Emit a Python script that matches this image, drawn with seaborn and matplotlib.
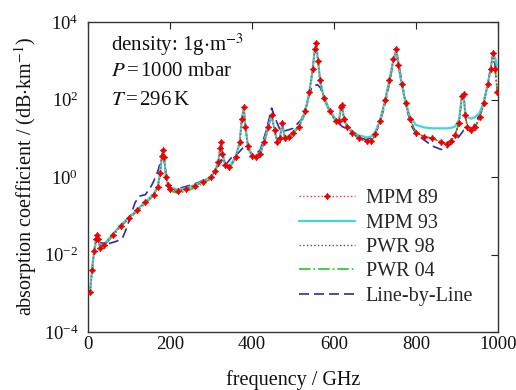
import matplotlib
matplotlib.use("Agg")
import matplotlib.pyplot as plt
import seaborn as sns
import numpy as np

# ---------------- data ----------------
freq_ghz = [5, 10, 15, 20, 22, 25, 30, 40, 60, 80,
            100, 120, 140, 160, 170, 176, 180, 183, 186, 190,
            195, 200, 220, 240, 260, 280, 300, 310, 318, 322,
            325, 328, 335, 345, 360, 370, 375, 380, 384, 390,
            400, 410, 420, 430, 440, 448, 455, 462, 468, 474,
            480, 490, 500, 515, 530, 540, 548, 553, 557, 561,
            566, 575, 590, 605, 612, 617, 620, 624, 632, 645,
            660, 680, 690, 700, 712, 725, 735, 745, 752, 757,
            765, 775, 785, 800, 820, 840, 860, 875, 885, 895,
            905, 912, 916, 920, 925, 935, 945, 955, 965, 975,
            982, 988, 993, 998]

mpm89 = [0.0011, 0.004, 0.0126, 0.025, 0.032, 0.025, 0.015, 0.018, 0.032, 0.056,
         0.089, 0.14, 0.22, 0.35, 0.56, 1.26, 3.5, 5.0, 3.2, 1.0,
         0.63, 0.5, 0.44, 0.5, 0.6, 0.76, 1.0, 1.4, 2.5, 5.6,
         8.0, 4.0, 2.0, 1.8, 3.2, 8.0, 32, 63, 20, 6.3,
         3.5, 3.2, 4.0, 8.0, 20, 40, 16, 8.0, 10, 25,
         10, 11, 14, 20, 50, 160, 630, 2000, 2800, 1000,
         320, 112, 50, 28, 28, 63, 71, 32, 20, 14,
         10, 8.3, 8.3, 12.6, 28, 100, 320, 1120, 2000, 790,
         250, 79, 32, 14, 11, 10, 7.9, 7.1, 8.3, 12,
         25, 126, 141, 40, 20, 16, 20, 35, 79, 250,
         630, 1580, 630, 160]

mpm93 = [0.0011, 0.004, 0.0126, 0.025, 0.032, 0.025, 0.016, 0.019, 0.033, 0.058,
         0.09, 0.145, 0.23, 0.36, 0.58, 1.3, 3.4, 4.8, 3.1, 1.05,
         0.66, 0.53, 0.47, 0.52, 0.62, 0.78, 1.02, 1.45, 2.5, 5.4,
         7.5, 4.0, 2.1, 1.9, 3.3, 8.0, 30, 60, 20, 6.5,
         3.7, 3.4, 4.2, 8.3, 20, 40, 16, 8.3, 10.5, 24,
         10.5, 11.5, 14.5, 21, 52, 160, 630, 1900, 2500, 1000,
         330, 115, 52, 30, 30, 60, 68, 33, 21, 15,
         12, 10.5, 11, 14, 29, 100, 320, 1100, 1900, 800,
         260, 85, 36, 22, 19, 18, 18, 18, 18.5, 20,
         30, 126, 135, 50, 35, 32, 36, 45, 85, 250,
         630, 1500, 1200, 700]

pwr98 = [0.0011, 0.004, 0.0126, 0.025, 0.032, 0.025, 0.015, 0.018, 0.031, 0.055,
         0.088, 0.14, 0.22, 0.35, 0.55, 1.25, 3.4, 4.9, 3.1, 1.0,
         0.62, 0.48, 0.42, 0.48, 0.58, 0.74, 0.98, 1.4, 2.4, 5.5,
         7.8, 4.0, 2.0, 1.8, 3.1, 7.8, 31, 62, 20, 6.2,
         3.4, 3.1, 3.9, 7.8, 20, 40, 16, 8.0, 10, 24,
         10, 11, 14, 20, 50, 160, 620, 2000, 2700, 1000,
         320, 110, 50, 28, 28, 62, 70, 32, 20, 14,
         10, 8.3, 8.3, 12.5, 27, 95, 310, 1100, 2000, 780,
         250, 78, 32, 14, 11, 10, 8.0, 7.2, 8.4, 12,
         25, 125, 140, 40, 20, 16, 20, 35, 79, 250,
         630, 1580, 630, 170]

pwr04 = [0.0011, 0.004, 0.0126, 0.024, 0.031, 0.024, 0.015, 0.017, 0.030, 0.052,
         0.085, 0.13, 0.21, 0.33, 0.53, 1.2, 3.3, 4.8, 3.0, 0.95,
         0.58, 0.44, 0.38, 0.44, 0.52, 0.68, 0.9, 1.3, 2.3, 5.3,
         7.5, 3.8, 1.9, 1.7, 3.0, 7.5, 30, 60, 19, 6.0,
         3.3, 3.0, 3.8, 7.6, 19, 38, 15, 7.8, 9.8, 24,
         9.8, 10.5, 13.5, 19, 45, 140, 560, 1900, 2700, 1000,
         300, 105, 47, 27, 27, 60, 68, 31, 19, 13.5,
         9.8, 8.2, 8.3, 11.5, 24, 80, 260, 1000, 1950, 770,
         245, 77, 31, 14, 11, 10, 8.0, 7.2, 8.4, 12,
         25, 125, 140, 40, 20, 16, 20, 35, 79, 250,
         630, 1580, 630, 170]

lbl_freq = [10, 15, 20, 22, 26, 30, 50, 70, 85, 95,
            105, 115, 125, 140, 155, 165, 172, 178, 183, 188,
            192, 197, 205, 220, 260, 300, 315, 325, 335, 350,
            365, 380, 392, 405, 420, 435, 448, 458, 470, 485,
            500, 520, 535, 545, 552, 560, 567, 580, 600, 620,
            640, 660, 680, 700, 720, 735, 745, 752, 760, 770,
            780, 790, 800, 820, 840, 860, 870, 890, 905, 916,
            935, 960, 975, 988, 998]

lbl = [0.004, 0.0126, 0.022, 0.025, 0.022, 0.02, 0.019, 0.022, 0.028, 0.05,
       0.11, 0.22, 0.32, 0.35, 0.6, 1.0, 1.6, 2.8, 3.2, 2.0,
       1.0, 0.56, 0.5, 0.5, 0.66, 1.0, 1.6, 2.8, 2.0, 3.2,
       4.0, 6.0, 5.0, 3.5, 5.0, 16, 60, 30, 15, 16,
       18, 30, 80, 200, 230, 240, 200, 89, 32, 20,
       16, 11, 9, 12, 50, 250, 1000, 1900, 630, 160,
       45, 20, 13, 9, 6.3, 5.2, 5.0, 8, 11, 16,
       16, 50, 250, 1500, 400]

series_labels = ["MPM 89", "MPM 93", "PWR 98", "PWR 04", "Line-by-Line"]
x_ticks = [0, 200, 400, 600, 800, 1000]
y_ticks = [1e-4, 1e-2, 1e0, 1e2, 1e4]

# ---------------- style ----------------
sns.set_style("white")
plt.rcParams["font.family"] = ["Liberation Serif", "DejaVu Serif"]
plt.rcParams["mathtext.fontset"] = "stix"

fig = plt.figure(figsize=(5.16, 3.90), dpi=100)
ax = fig.add_axes([88 / 516, 1 - 332 / 390, 410 / 516, 310 / 390])

sns.lineplot(x=lbl_freq, y=lbl, ax=ax, color="#2a2ab8", lw=1.2,
             linestyle=(0, (6, 3)), label=series_labels[4], zorder=2)
sns.lineplot(x=freq_ghz, y=pwr04, ax=ax, color="#33cc33", lw=1.3,
             linestyle="-.", label=series_labels[3], zorder=3)
sns.lineplot(x=freq_ghz, y=pwr98, ax=ax, color="#555555", lw=1.0,
             linestyle=":", label=series_labels[2], zorder=4)
sns.lineplot(x=freq_ghz, y=mpm93, ax=ax, color="#3fd8d8", lw=1.6,
             linestyle="-", label=series_labels[1], zorder=5)
sns.lineplot(x=freq_ghz, y=mpm89, ax=ax, color="#ff3030", lw=1.0,
             linestyle=":", marker=(4, 1, 0), markersize=4.5,
             markeredgecolor="#ee0000", markerfacecolor="#ee0000",
             label=series_labels[0], zorder=6)

ax.set_yscale("log")
ax.set_xlim(0, 1000)
ax.set_ylim(1e-4, 1e4)
ax.set_xticks(x_ticks)
ax.set_yticks(y_ticks)
ax.yaxis.set_minor_locator(matplotlib.ticker.NullLocator())
ax.tick_params(axis="both", which="major", direction="in", length=5,
               width=0.8, top=True, right=True, labelsize=13.5, pad=3,
               colors="#222222")
ax.tick_params(axis="y", pad=7)
ax.tick_params(axis="both", labelcolor="#111111")
for s in ax.spines.values():
    s.set_color("#333333")
    s.set_linewidth(1.0)

ax.set_xlabel("frequency / GHz", fontsize=14.5, labelpad=12, color="#111111")
ax.set_ylabel(r"absorption coefficient / (dB$\cdot$km$^{-1}$)", fontsize=14.5,
              labelpad=3, color="#111111")

ax.text(0.057, 0.926, r"density: 1g$\cdot$m$^{-3}$", transform=ax.transAxes,
        fontsize=15, va="center", ha="left", color="#111111")
ax.text(0.057, 0.84, r"$P\,$=$\,$1000 mbar", transform=ax.transAxes,
        fontsize=15, va="center", ha="left", color="#111111")
ax.text(0.057, 0.748, r"$T\,$=$\,$296$\,$K", transform=ax.transAxes,
        fontsize=15, va="center", ha="left", color="#111111")

handles, labels = ax.get_legend_handles_labels()
order = [labels.index(l) for l in series_labels]
ax.legend([handles[i] for i in order], [labels[i] for i in order],
          loc="upper left", bbox_to_anchor=(0.515, 0.46), frameon=False,
          fontsize=14.5, handlelength=2.75, handletextpad=0.55, numpoints=1,
          labelspacing=0.26, borderpad=0, borderaxespad=0)

fig.savefig("out.png", dpi=100)
